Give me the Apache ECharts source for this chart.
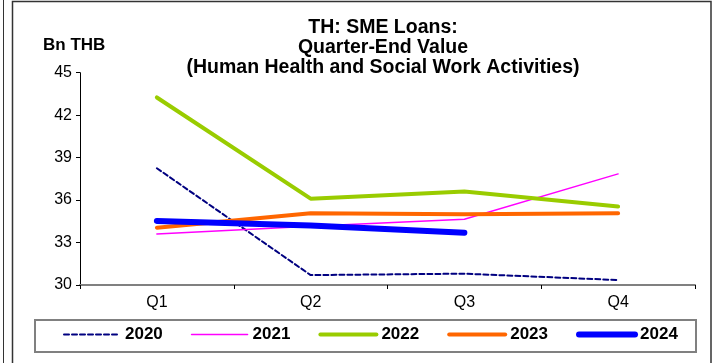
<!DOCTYPE html>
<html><head><meta charset="utf-8">
<script src="https://cdn.jsdelivr.net/npm/echarts@6/dist/echarts.min.js"></script>
<style>html,body{margin:0;padding:0;background:#fff}#c{width:712px;height:363px}</style>
</head><body><div id="c"></div>
<script>
var categories = ['Q1', 'Q2', 'Q3', 'Q4'];
var years = ['2020', '2021', '2022', '2023', '2024'];
var s2020 = [38.25, 30.7, 30.8, 30.35];
var s2021 = [33.6, 34.15, 34.65, 37.85];
var s2022 = [43.25, 36.1, 36.6, 35.55];
var s2023 = [34.05, 35.07, 35.0, 35.07];
var s2024 = [34.53, 34.2, 33.7];
var yTicks = [30, 33, 36, 39, 42, 45];
var titleLines = ['TH: SME Loans:', 'Quarter-End Value', '(Human Health and Social Work Activities)'];
var unitLabel = 'Bn THB';

var font = '"Liberation Sans", Arial, sans-serif';
var chart = echarts.init(document.getElementById('c'), null, {renderer: 'canvas'});
var styles = [
  {color: '#000080', width: 2, type: [5, 3]},
  {color: '#FF00FF', width: 1.5, type: 'solid'},
  {color: '#99CC00', width: 4, type: 'solid'},
  {color: '#FF6600', width: 4, type: 'solid'},
  {color: '#0000FF', width: 6, type: 'solid'}
];
var dataSets = [s2020, s2021, s2022, s2023, s2024];
var series = years.map(function (y, i) {
  return {
    name: y, type: 'line', data: dataSets[i], symbol: 'none', z: 2 + i,
    lineStyle: {color: styles[i].color, width: styles[i].width, type: styles[i].type, cap: 'round'},
    itemStyle: {color: styles[i].color},
    animation: false
  };
});
var legendData = years.map(function (y, i) {
  return {name: y, lineStyle: {width: styles[i].width, type: styles[i].type, color: styles[i].color, cap: 'round'}};
});
chart.setOption({
  animation: false,
  grid: {left: 80, right: 17, top: 72.7, bottom: 78, containLabel: false},
  xAxis: {
    type: 'category', data: categories, boundaryGap: true,
    axisLine: {lineStyle: {color: '#808080', width: 2}},
    axisTick: {show: true, length: 4, lineStyle: {color: '#000'}},
    axisLabel: {color: '#000', fontSize: 16, fontFamily: font, margin: 10},
    splitLine: {show: false}
  },
  yAxis: {
    type: 'value', min: yTicks[0], max: yTicks[yTicks.length - 1], interval: 3,
    axisLine: {show: true, lineStyle: {color: '#000', width: 1}},
    axisTick: {show: true, length: 4, lineStyle: {color: '#000'}},
    axisLabel: {color: '#000', fontSize: 16, fontFamily: font, margin: 8},
    splitLine: {show: false}
  },
  legend: {
    show: true, orient: 'horizontal',
    data: legendData, left: 63, top: 326, width: 630, itemGap: 28, itemWidth: 56, itemHeight: 18,
    padding: 0,
    itemStyle: {opacity: 0},
    textStyle: {color: '#000', fontSize: 17, fontWeight: 'bold', fontFamily: font},
    selectedMode: false
  },
  graphic: [
    {type: 'line', shape: {x1: 3.5, y1: 0, x2: 3.5, y2: 363}, style: {stroke: '#333', lineWidth: 1}},
    {type: 'polyline', shape: {points: [[12.5, 363], [12.5, 1.5], [711, 1.5], [711, 363]]}, style: {stroke: '#333', fill: null, lineWidth: 1.5}},
    {type: 'rect', shape: {x: 35, y: 320, width: 661, height: 32}, style: {stroke: '#808080', fill: null, lineWidth: 2}, z: -1},
    {type: 'text', x: 383, y: 18, style: {text: titleLines.join('\n'), font: 'bold 19.5px ' + font, fill: '#000', align: 'center', verticalAlign: 'top', lineHeight: 20}},
    {type: 'text', x: 43, y: 37, style: {text: unitLabel, font: 'bold 17px ' + font, fill: '#000', align: 'left', verticalAlign: 'top'}}
  ],
  series: series
});
</script></body></html>
